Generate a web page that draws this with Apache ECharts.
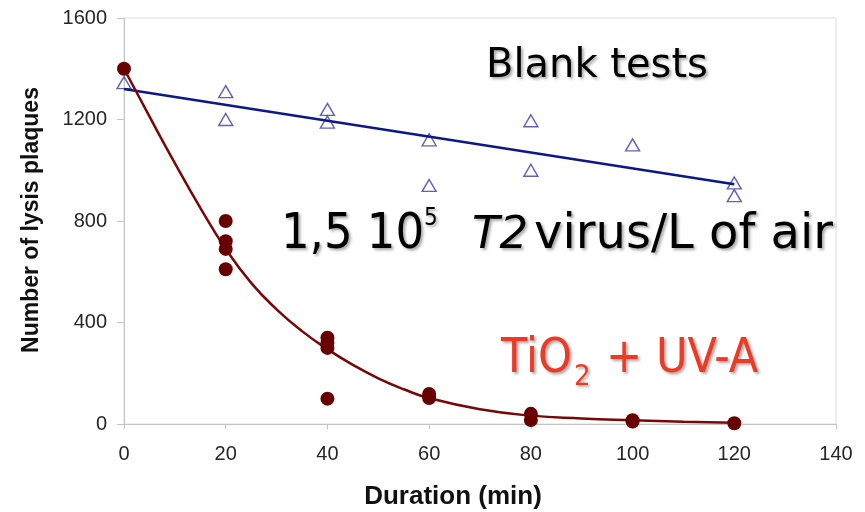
<!DOCTYPE html>
<html>
<head>
<meta charset="utf-8">
<script src="https://cdn.jsdelivr.net/npm/echarts@6/dist/echarts.min.js"></script>
<style>
html, body { margin: 0; padding: 0; background: #fff; }
#chart { width: 865px; height: 512px; }
</style>
</head>
<body>
<div id="chart"></div>
<script>
// points
var blankX = [0, 20, 20, 40, 40, 60, 60, 80, 80, 100, 120, 120];
var blankY = [1345, 1310, 1200, 1240, 1190, 1120, 940, 1195, 1000, 1100, 950, 900];
var blankTrendX = [0, 120];
var blankTrendY = [1320, 945];

var tioX = [0, 20, 20, 20, 20, 40, 40, 40, 40, 60, 60, 80, 80, 100, 100, 120];
var tioY = [1400, 800, 720, 690, 610, 340, 320, 300, 100, 118, 102, 40, 16, 15, 10, 3];
// fitted curve, traced
var curveX = [0, 5, 10, 15, 20, 25, 30, 35, 40, 45, 50, 55, 60, 70, 80, 90, 100, 110, 120];
var curveY = [1400, 1212, 1028, 852, 690, 556, 452, 366, 295, 233, 180, 137, 102, 58, 33, 22, 15, 9, 5];

function pairs(xs, ys) {
	var out = [];
	for (var i = 0; i < xs.length; i++) {
		out.push([xs[i], ys[i]]);
	}
	return out;
}

var shadow = {
	textShadowColor : 'rgba(0,0,0,0.35)',
	textShadowBlur : 3,
	textShadowOffsetX : 2,
	textShadowOffsetY : 2
};

function label(x, y, text, font, color) {
	var style = {
		text : text,
		font : font,
		fill : color,
		align : 'left',
		verticalAlign : 'middle'
	};
	for (var k in shadow) style[k] = shadow[k];
	return { type : 'text', x : x, y : y, z : 100, style : style };
}

var myChart = echarts.init(document.getElementById('chart'));

var option = {
	animation : false,
	grid : {
		left : 124,
		right : 29,
		top : 18,
		bottom : 88,
		show : true,
		borderColor : '#dcdcdc',
		borderWidth : 1
	},
	xAxis : {
		type : 'value',
		min : 0,
		max : 140,
		interval : 20,
		axisLine : { lineStyle : { color : '#c4c4c4', width : 1 } },
		axisTick : { show : true, length : 5, lineStyle : { color : '#c4c4c4' } },
		axisLabel : { margin : 20, fontFamily : 'Liberation Sans', fontSize : 20, color : '#262626' },
		splitLine : { show : false }
	},
	yAxis : {
		type : 'value',
		min : 0,
		max : 1600,
		interval : 400,
		axisLine : { show : true, lineStyle : { color : '#c4c4c4', width : 1 } },
		axisTick : { show : true, length : 7, lineStyle : { color : '#c4c4c4' } },
		axisLabel : {
			margin : 17,
			fontFamily : 'Liberation Sans',
			fontSize : 20,
			color : '#262626',
			formatter : function(v) { return String(v); }
		},
		splitLine : { show : false }
	},
	series : [ {
		name : 'Blank tests',
		type : 'scatter',
		symbol : 'triangle',
		symbolSize : [14, 12],
		itemStyle : { color : 'rgba(255,255,255,0)', borderColor : '#3b3ba3', borderWidth : 1.4 },
		data : pairs(blankX, blankY),
		z : 3
	}, {
		name : 'Blank trend',
		type : 'line',
		showSymbol : false,
		lineStyle : { color : '#0c1888', width : 2.5 },
		data : pairs(blankTrendX, blankTrendY),
		z : 4
	}, {
		name : 'TiO2 curve',
		type : 'line',
		smooth : 0.5,
		showSymbol : false,
		lineStyle : { color : '#760808', width : 2.5 },
		data : pairs(curveX, curveY),
		z : 4
	}, {
		name : 'TiO2 + UV-A',
		type : 'scatter',
		symbol : 'circle',
		symbolSize : 14,
		itemStyle : { color : '#690000', opacity : 1 },
		data : pairs(tioX, tioY),
		z : 5
	} ],
	graphic : [
		label(486, 67, 'Blank tests', '40px "DejaVu Sans"', '#000'),
		label(281, 235, '1,5 10', '50px "DejaVu Sans Condensed"', '#000'),
		label(424, 219, '5', '24px "DejaVu Sans Condensed"', '#000'),
		label(472, 236, 'T2', 'italic 45px "DejaVu Sans"', '#000'),
		label(534, 236, 'virus/L of air', '48px "DejaVu Sans"', '#000'),
		label(501, 360, 'TiO', '48px "DejaVu Sans Condensed"', '#ee3a24'),
		label(574, 377, '2', '29px "DejaVu Sans Condensed"', '#ee3a24'),
		label(606, 360, '+ UV-A', '48px "DejaVu Sans Condensed"', '#ee3a24'),
		{
			type : 'text',
			x : 453,
			y : 497,
			style : {
				text : 'Duration (min)',
				font : 'bold 26px "Liberation Sans"',
				fill : '#111',
				align : 'center',
				verticalAlign : 'middle'
			}
		},
		{
			type : 'text',
			x : 32,
			y : 220,
			rotation : Math.PI / 2,
			style : {
				text : 'Number of lysis plaques',
				font : 'bold 23px "Liberation Sans"',
				fill : '#111',
				align : 'center',
				verticalAlign : 'middle'
			}
		}
	]
};

myChart.setOption(option);
</script>
</body>
</html>
